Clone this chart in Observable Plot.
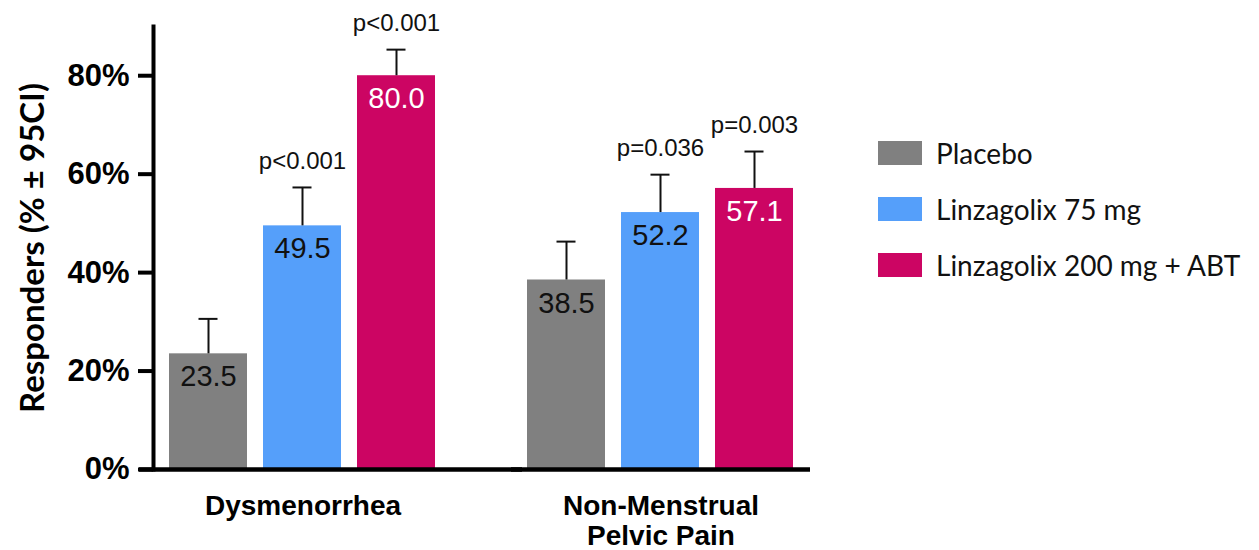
<!DOCTYPE html>
<html>
<head>
<meta charset="utf-8">
<script src="https://cdn.jsdelivr.net/npm/d3@7"></script>
<script src="https://cdn.jsdelivr.net/npm/@observablehq/plot@0.6"></script>
<style>
  html, body { margin: 0; padding: 0; background: #fff; }
  #wrap { position: relative; width: 1259px; height: 550px; overflow: hidden; }
  #wrap svg { position: absolute; left: 0; top: 0; }
  #legend { position: absolute; left: 878px; top: 141px; font-family: Lato, "Open Sans", sans-serif; font-size: 28px; color: #111; }
  #legend .item { display: flex; align-items: center; height: 24px; margin-bottom: 32px; white-space: nowrap; }
  #legend .sw { width: 44px; height: 24px; margin-right: 14px; flex: none; }
</style>
</head>
<body>
<div id="wrap"></div>
<script>
// ---- data ----
const groups = ["Dysmenorrhea", "Non-Menstrual Pelvic Pain"];
const groupLabels = ["Dysmenorrhea", "Non-Menstrual\nPelvic Pain"];
const treatments = ["Placebo", "Linzagolix 75 mg", "Linzagolix 200 mg + ABT"];
const dysValues = [23.5, 49.5, 80.0];
const dysUpper = [30.6, 57.3, 85.3];
const dysP = ["", "p<0.001", "p<0.001"];
const nmppValues = [38.5, 52.2, 57.1];
const nmppUpper = [46.3, 59.9, 64.6];
const nmppP = ["", "p=0.036", "p=0.003"];
const yTicks = [0, 20, 40, 60, 80];
const yTitle = "Responders (% \u00b1 95CI)";

// ---- styles ----
const palette = ["#808080", "#559ffa", "#cc0563"];
const valueTextColors = ["#111", "#111", "#fff"];

const rows = [];
[[dysValues, dysUpper, dysP], [nmppValues, nmppUpper, nmppP]].forEach(([vals, ups, ps], gi) => {
  treatments.forEach((t, ti) => {
    rows.push({group: groups[gi], treatment: t, value: vals[ti], upper: ups[ti], p: ps[ti], ti});
  });
});

const chart = Plot.plot({
  width: 1259,
  height: 550,
  marginLeft: 152,
  marginRight: 448,
  marginTop: 26,
  marginBottom: 81,
  style: {fontFamily: "'Liberation Sans', Arial, sans-serif", overflow: "visible", background: "transparent"},
  fx: {domain: groups, paddingInner: 0.164, paddingOuter: 0, axis: null, label: null},
  x: {domain: treatments, paddingInner: 0.17, paddingOuter: 0.17, axis: null, label: null},
  y: {domain: [0, 90], label: null},
  color: {domain: treatments, range: palette},
  marks: [
    Plot.barY(rows, {fx: "group", x: "treatment", y: "value", fill: "treatment"}),
    Plot.ruleX(rows, {fx: "group", x: "treatment", y1: "value", y2: "upper", stroke: "#111", strokeWidth: 2}),
    Plot.tickY(rows, {fx: "group", x: "treatment", y: "upper", stroke: "#111", strokeWidth: 2, insetLeft: 29.5, insetRight: 29.5}),
    Plot.text(rows, {fx: "group", x: "treatment", y: "value", text: d => d.value.toFixed(1), lineAnchor: "top", dy: 12, fontSize: 29, fill: d => valueTextColors[d.ti]}),
    Plot.text(rows.filter(d => d.p), {fx: "group", x: "treatment", y: "upper", text: "p", dy: -26, fontSize: 24, fill: "#111"}),
    Plot.ruleY([0], {facetAnchor: "left", insetLeft: -14, insetRight: -70, stroke: "#000", strokeWidth: 4.5}),
    Plot.ruleY([0], {facetAnchor: "right", stroke: "#000", strokeWidth: 4.5}),
    Plot.frame({anchor: "left", facetAnchor: "left", stroke: "#000", strokeWidth: 4}),
    Plot.axisY({ticks: yTicks, tickFormat: d => d + "%", tickSize: 15, tickPadding: 9, strokeWidth: 4, stroke: "#000", fontSize: 31, fontWeight: "bold", fill: "#000", label: null}),
    Plot.text([yTitle], {facetAnchor: "left", frameAnchor: "left", textAnchor: "middle", rotate: -90, dx: -120, dy: 0, fontSize: 33, fontWeight: "bold", fontFamily: "Lato, 'Open Sans', sans-serif", fill: "#000"}),
    Plot.axisFx({anchor: "bottom", tickSize: 0, tickPadding: 25, tickFormat: d => groupLabels[groups.indexOf(d)], fontSize: 28, fontWeight: "bold", lineHeight: 1.05, fill: "#000", label: null})
  ]
});

const wrap = document.getElementById("wrap");
wrap.appendChild(chart);

const legend = d3.select(wrap).append("div").attr("id", "legend");
const items = legend.selectAll("div.item").data(treatments).join("div").attr("class", "item");
items.append("div").attr("class", "sw").style("background", (d, i) => palette[i]);
items.append("span").text(d => d);
</script>
</body>
</html>
